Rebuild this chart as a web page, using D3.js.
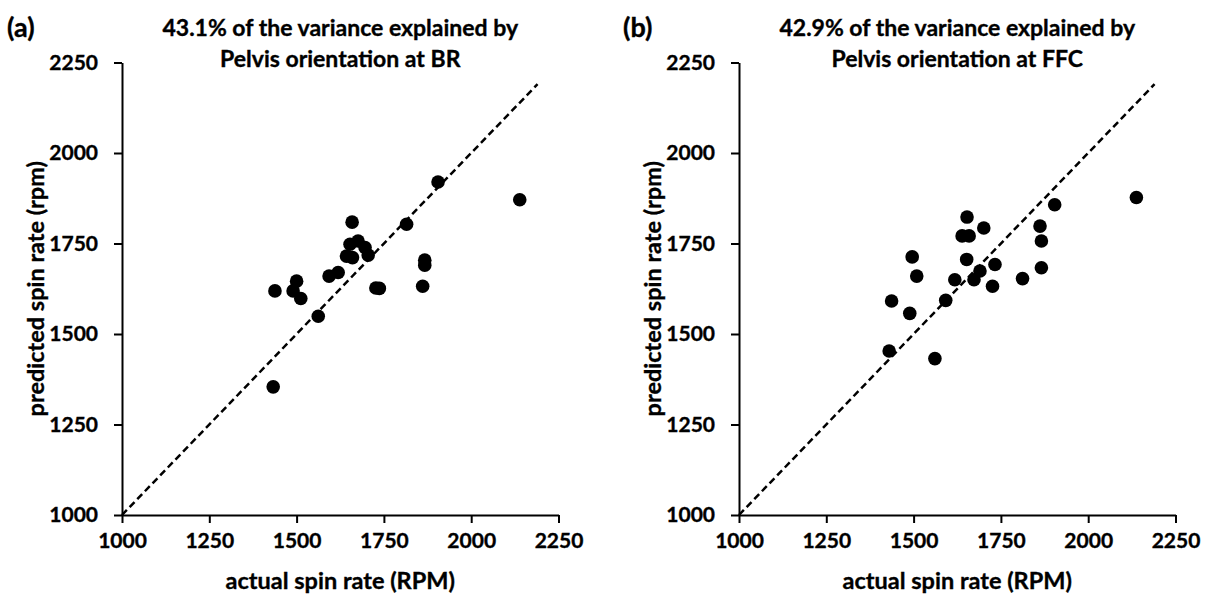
<!DOCTYPE html>
<html>
<head>
<meta charset="utf-8">
<script src="https://cdn.jsdelivr.net/npm/d3@7"></script>
<style>
  body { margin: 0; background: #fff; }
  text { font-family: Lato, "Open Sans", sans-serif; font-weight: bold; fill: #000; stroke: #000; stroke-width: 0.35px; }
</style>
</head>
<body>
<div id="chart"></div>
<script>
//==========================================================
// data
const actualA    = [1905, 1815, 1659, 1676, 1653, 1696, 1643, 1660, 1705, 1867, 1867, 1593, 1619, 1500, 1438, 1490, 1512, 1727, 1737, 1861, 1562, 1433, 2139];
const predictedA = [1920, 1803, 1809, 1757, 1748, 1739, 1715, 1711, 1718, 1704, 1690, 1660, 1670, 1646, 1619, 1619, 1598, 1627, 1626, 1632, 1549, 1354, 1871];

const actualB    = [1904, 1862, 1866, 1866, 1812, 1726, 1733, 1701, 1653, 1639, 1659, 1652, 1690, 1673, 1618, 1592, 1496, 1509, 1437, 1489, 1430, 1561, 2138];
const predictedB = [1857, 1798, 1757, 1683, 1653, 1632, 1692, 1793, 1823, 1771, 1771, 1706, 1674, 1650, 1650, 1593, 1713, 1660, 1591, 1557, 1453, 1432, 1877];

const axisTicks = [1000, 1250, 1500, 1750, 2000, 2250];
const refLine = [1000, 2190];   // identity line end points

const titlesA = ["43.1% of the variance explained by", "Pelvis orientation at BR"];
const titlesB = ["42.9% of the variance explained by", "Pelvis orientation at FFC"];

//==========================================================
let width_svg = 1214;
let height_svg = 595;

let svg = d3.select("#chart")
            .append("svg")
            .attr("width", width_svg)
            .attr("height", height_svg);

let plot_top = 62.5;
let plot_bottom = 515;
let plot_w = 436.5;

let panels = [
    {left: 122, tag: "(a)", tagX: 7, titles: titlesA, xs: actualA, ys: predictedA},
    {left: 739, tag: "(b)", tagX: 623, titles: titlesB, xs: actualB, ys: predictedB}
];

panels.forEach(p => {
    let x = d3.scaleLinear().domain([1000, 2250]).range([p.left, p.left + plot_w]);
    let y = d3.scaleLinear().domain([1000, 2250]).range([plot_bottom, plot_top]);
    let cx = p.left + plot_w / 2;

    // axes
    let xAxis = svg.append("g")
        .attr("transform", `translate(0, ${plot_bottom})`)
        .call(d3.axisBottom(x).tickValues(axisTicks).tickFormat(d3.format("d"))
              .tickSize(8).tickSizeOuter(0).tickPadding(10));
    let yAxis = svg.append("g")
        .attr("transform", `translate(${p.left}, 0)`)
        .call(d3.axisLeft(y).tickValues(axisTicks).tickFormat(d3.format("d"))
              .tickSize(8).tickSizeOuter(0).tickPadding(16));

    [xAxis, yAxis].forEach(a => {
        a.selectAll("path, line").attr("stroke", "#000").attr("stroke-width", 2);
        a.selectAll("text").style("font-size", "21px").attr("fill", "#000");
    });

    // identity line
    svg.append("line")
        .attr("x1", x(refLine[0])).attr("y1", y(refLine[0]))
        .attr("x2", x(refLine[1])).attr("y2", y(refLine[1]))
        .attr("stroke", "#000")
        .attr("stroke-width", 2.5)
        .attr("stroke-dasharray", "7,4");

    // dots
    svg.append("g").selectAll("circle")
        .data(p.xs.map((v, i) => [v, p.ys[i]]))
        .enter()
        .append("circle")
        .attr("cx", d => x(d[0]))
        .attr("cy", d => y(d[1]))
        .attr("r", 6.8)
        .attr("fill", "#000");

    // titles
    svg.append("text").attr("x", p.tagX).attr("y", 37)
        .style("font-size", "27px").text(p.tag);
    p.titles.forEach((t, i) => {
        svg.append("text")
            .attr("x", cx).attr("y", 36 + i * 31)
            .attr("text-anchor", "middle")
            .style("font-size", "23px")
            .text(t);
    });

    // axis labels
    svg.append("text")
        .attr("x", cx).attr("y", 589)
        .attr("text-anchor", "middle")
        .style("font-size", "23.5px")
        .text("actual spin rate (RPM)");
    svg.append("text")
        .attr("transform", `translate(${p.left - 78}, ${(plot_top + plot_bottom) / 2}) rotate(-90)`)
        .attr("text-anchor", "middle")
        .style("font-size", "23.5px")
        .text("predicted spin rate (rpm)");
});
</script>
</body>
</html>
